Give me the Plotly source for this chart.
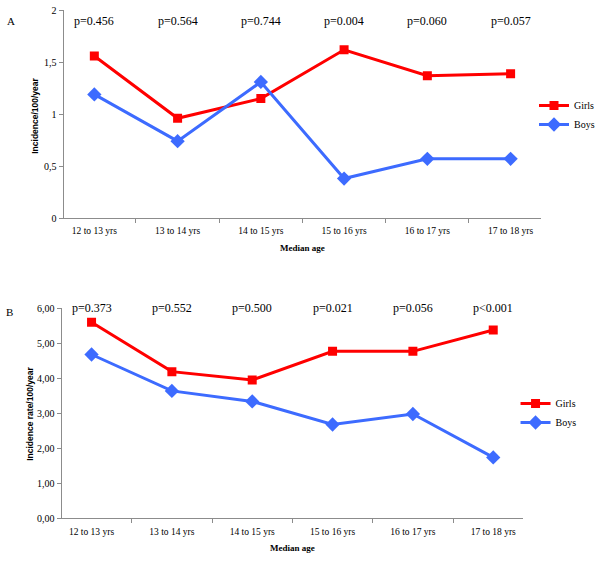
import plotly.graph_objects as go

ages = ['12 to 13 yrs', '13 to 14 yrs', '14 to 15 yrs', '15 to 16 yrs', '16 to 17 yrs', '17 to 18 yrs']

# panel A: incidence/100/year
girls_a = [1.56, 0.96, 1.15, 1.62, 1.37, 1.39]
boys_a = [1.19, 0.74, 1.31, 0.38, 0.57, 0.57]
p_a = ['p=0.456', 'p=0.564', 'p=0.744', 'p=0.004', 'p=0.060', 'p=0.057']

# panel B: incidence rate/100/year
girls_b = [5.60, 4.19, 3.95, 4.77, 4.77, 5.38]
boys_b = [4.68, 3.64, 3.34, 2.68, 2.98, 1.74]
p_b = ['p=0.373', 'p=0.552', 'p=0.500', 'p=0.021', 'p=0.056', 'p<0.001']

RED = '#FF0000'
BLUE = '#3D6BFF'
GREY = '#8C8C8C'
SERIF = 'Liberation Serif'
SANS = 'Liberation Sans'

fig = go.Figure()

fig.add_trace(go.Scatter(x=ages, y=girls_a, name='Girls', mode='lines+markers',
                         line=dict(color=RED, width=3),
                         marker=dict(symbol='square', size=9, color=RED),
                         xaxis='x', yaxis='y', legend='legend'))
fig.add_trace(go.Scatter(x=ages, y=boys_a, name='Boys', mode='lines+markers',
                         line=dict(color=BLUE, width=3),
                         marker=dict(symbol='diamond', size=11, color=BLUE),
                         xaxis='x', yaxis='y', legend='legend'))
fig.add_trace(go.Scatter(x=ages, y=girls_b, name='Girls', mode='lines+markers',
                         line=dict(color=RED, width=3),
                         marker=dict(symbol='square', size=9, color=RED),
                         xaxis='x2', yaxis='y2', legend='legend2'))
fig.add_trace(go.Scatter(x=ages, y=boys_b, name='Boys', mode='lines+markers',
                         line=dict(color=BLUE, width=3),
                         marker=dict(symbol='diamond', size=11, color=BLUE),
                         xaxis='x2', yaxis='y2', legend='legend2'))

# p-value labels above each category
for a, t in zip(ages, p_a):
    fig.add_annotation(x=a, y=1.9, xref='x', yref='y', text=t, showarrow=False,
                       font=dict(family=SERIF, size=12, color='black'))
for a, t in zip(ages, p_b):
    fig.add_annotation(x=a, y=6.0, xref='x2', yref='y2', text=t, showarrow=False,
                       font=dict(family=SERIF, size=12, color='black'))

# panel letters and axis titles (pixel positions converted to paper coords)
labels = [
    ('A', 11, 21, 0, SERIF, 11),
    ('B', 10, 312, 0, SERIF, 11),
    ('<b>Median age</b>', 304.5, 248, 0, SERIF, 9),
    ('<b>Median age</b>', 294.5, 548, 0, SERIF, 9),
    ('<b>Incidence/100/year</b>', 35, 116, -90, SANS, 8.5),
    ('<b>Incidence rate/100/year</b>', 30, 414, -90, SANS, 8.5),
]
for txt, px, py, ang, fam, sz in labels:
    fig.add_annotation(x=px / 600, y=1 - py / 561, xref='paper', yref='paper', text=txt,
                       showarrow=False, textangle=ang, xanchor='center', yanchor='middle',
                       font=dict(family=fam, size=sz, color='black'))

xax = dict(type='category', showline=True, linecolor=GREY, linewidth=1, ticks='outside',
           tickson='boundaries', ticklen=4, tickcolor=GREY, showgrid=False, zeroline=False,
           automargin=False, ticklabelstandoff=4,
           tickfont=dict(family=SERIF, size=9.5, color='black'))
yax = dict(showline=True, linecolor=GREY, linewidth=1, ticks='outside', ticklen=4,
           tickcolor=GREY, showgrid=False, zeroline=False, automargin=False,
           tickfont=dict(family=SERIF, size=10, color='black'))

fig.update_layout(
    width=600, height=561,
    margin=dict(l=0, r=0, t=0, b=0),
    paper_bgcolor='white', plot_bgcolor='white',
    showlegend=True,
    separators=',.',
    xaxis=dict(xax, domain=[64 / 600, 545 / 600], anchor='y'),
    yaxis=dict(yax, domain=[1 - 218 / 561, 1 - 10.3 / 561], anchor='x', range=[0, 2], dtick=0.5),
    xaxis2=dict(xax, domain=[62 / 600, 526.7 / 600], anchor='y2'),
    yaxis2=dict(yax, domain=[1 - 518.3 / 561, 1 - 308.3 / 561], anchor='x2', range=[0, 6],
                dtick=1, tickformat='.2f'),
    legend=dict(x=538 / 600, y=1 - 115 / 561, xanchor='left', yanchor='middle',
                bgcolor='rgba(0,0,0,0)', font=dict(family=SERIF, size=10, color='black'),
                tracegroupgap=0, itemwidth=30),
    legend2=dict(x=519 / 600, y=1 - 413 / 561, xanchor='left', yanchor='middle',
                 bgcolor='rgba(0,0,0,0)', font=dict(family=SERIF, size=10, color='black'),
                 tracegroupgap=0, itemwidth=30),
)

# drop the default body margin so the figure sits at the page corner
fig.write_html('out.html', config={'displayModeBar': False},
               post_script="document.body.style.margin='0';")
